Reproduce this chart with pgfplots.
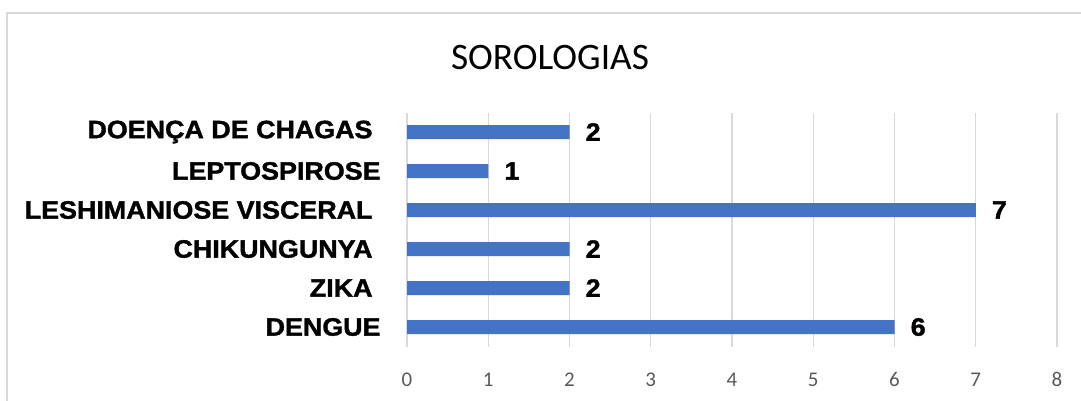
\documentclass[border=0pt]{standalone}
\usepackage{pgfplots}
\pgfplotsset{compat=1.18}
\usepackage{fontspec}
\setmainfont{Carlito}
\newfontfamily\lab{Liberation Sans}[FakeStretch=1.07, BoldFeatures={FakeBold=1.5}]
\definecolor{barblue}{HTML}{4472C4}
\definecolor{gridgray}{HTML}{D9D9D9}
\definecolor{txtgray}{HTML}{595959}
\begin{document}
\begin{tikzpicture}[x=1bp,y=1bp]
\useasboundingbox (0,0) rectangle (1081,400);
\draw[gridgray, line width=1.2bp] (7,-10) rectangle (1100,387);
\node[font=\fontsize{37.5}{40}\selectfont, text=black, inner sep=0] at (550,342) {SOROLOGIAS};
\begin{axis}[
  at={(407bp,53.5bp)}, anchor=south west,
  scale only axis, width=650bp, height=234bp,
  xmin=0, xmax=8, ymin=-0.5, ymax=5.5,
  xbar, bar width=14bp,
  xtick={0,...,8}, ytick={0,...,5},
  yticklabels={DENGUE, ZIKA\hspace*{8bp}, CHIKUNGUNYA\hspace*{8bp}, LESHIMANIOSE VISCERAL\hspace*{8bp}, LEPTOSPIROSE, DOENÇA DE CHAGAS\hspace*{8bp}},
  xmajorgrids, grid style={gridgray, line width=1.2bp},
  axis line style={draw=none}, tick style={draw=none},
  /pgf/number format/assume math mode=true,
  xticklabel style={font=\fontsize{21}{21}\selectfont, text=txtgray, anchor=north, inner sep=0, yshift=-26bp},
  yticklabel style={font=\lab\bfseries\fontsize{25.2}{26}\selectfont, text=black, anchor=east, inner sep=0, xshift=-22bp},
  clip=false,
]
\addplot[fill=barblue, draw=none,
  nodes near coords,
  nodes near coords style={font=\lab\bfseries\fontsize{25.2}{26}\selectfont, text=black, anchor=west, inner sep=0, xshift=16bp}]
  coordinates {(6,0) (2,1) (2,2) (7,3) (1,4) (2,5)};
\end{axis}
\end{tikzpicture}
\end{document}
